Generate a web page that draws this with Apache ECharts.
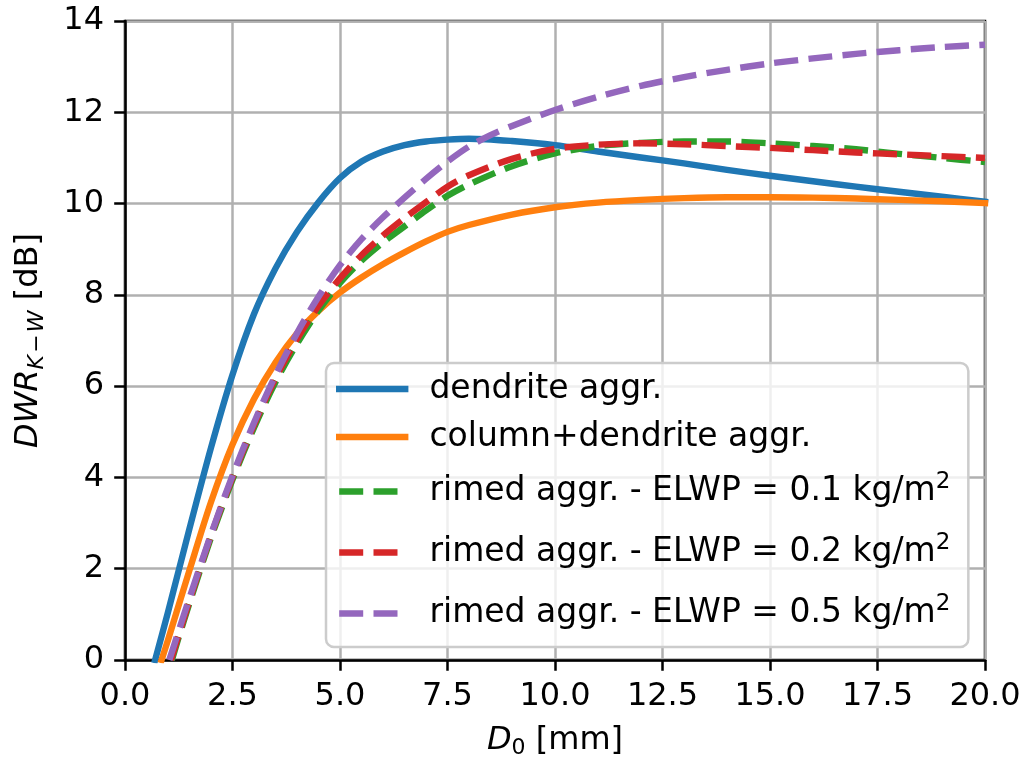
<!DOCTYPE html>
<html>
<head>
<meta charset="utf-8">
<script src="https://cdn.jsdelivr.net/npm/echarts@6/dist/echarts.min.js"></script>
<style>
  html, body { margin: 0; padding: 0; background: #ffffff; }
  #chart { width: 1023px; height: 758px; }
</style>
</head>
<body>
<div id="chart"></div>
<script>
// Dual-wavelength ratio (Ka vs W band) against median volume diameter D0 for several aggregate types.

const xTicks = [0, 2.5, 5, 7.5, 10, 12.5, 15, 17.5, 20];
const yTicks = [0, 2, 4, 6, 8, 10, 12, 14];

const seriesNames = [
  'dendrite aggr.',
  'column+dendrite aggr.',
  'rimed aggr. - ELWP = 0.1 kg/m²',
  'rimed aggr. - ELWP = 0.2 kg/m²',
  'rimed aggr. - ELWP = 0.5 kg/m²'
];

// dendrite aggregates
const dendriteD   = [0.70, 1.0, 1.5, 2.0, 2.5, 3.0, 3.5, 4.0, 4.5, 5.0, 5.5, 6.0, 6.5, 7.0, 7.5, 8.0, 9, 10, 11, 12, 13, 14, 15, 16, 17, 18, 19, 20];
const dendriteDWR = [0, 1.05, 2.88, 4.65, 6.25, 7.58, 8.58, 9.38, 10.03, 10.56, 10.92, 11.14, 11.28, 11.36, 11.4, 11.42, 11.37, 11.28, 11.14, 11.01, 10.88, 10.74, 10.61, 10.49, 10.37, 10.26, 10.15, 10.04];

// column + dendrite aggregates
const columnD   = [0.85, 1.0, 1.5, 2.0, 2.5, 3.0, 3.5, 4.0, 4.5, 5.0, 5.5, 6.0, 6.5, 7.0, 7.5, 8.0, 9, 10, 11, 12, 13, 14, 15, 16, 17, 18, 19, 20];
const columnDWR = [0, 0.44, 1.97, 3.46, 4.72, 5.72, 6.52, 7.16, 7.65, 8.05, 8.38, 8.67, 8.93, 9.17, 9.38, 9.53, 9.76, 9.92, 10.02, 10.08, 10.12, 10.14, 10.14, 10.13, 10.11, 10.08, 10.05, 10.01];

// rimed aggregates, ELWP = 0.1 kg/m2
const rimed01D   = [1.09, 1.25, 1.5, 2.0, 2.5, 3.0, 3.5, 4.0, 4.5, 5.0, 5.5, 6.0, 6.5, 7.0, 7.5, 8.0, 9, 10, 11, 12, 13, 14, 15, 16, 17, 18, 19, 20];
const rimed01DWR = [0, 0.5, 1.25, 2.68, 3.95, 5.09, 6.09, 6.93, 7.66, 8.26, 8.75, 9.15, 9.5, 9.85, 10.17, 10.42, 10.82, 11.1, 11.26, 11.33, 11.36, 11.36, 11.32, 11.26, 11.19, 11.09, 11.0, 10.91];

// rimed aggregates, ELWP = 0.2 kg/m2
const rimed02D   = [1.07, 1.25, 1.5, 2.0, 2.5, 3.0, 3.5, 4.0, 4.5, 5.0, 5.5, 6.0, 6.5, 7.0, 7.5, 8.0, 9, 10, 11, 12, 13, 14, 15, 16, 17, 18, 19, 20];
const rimed02DWR = [0, 0.55, 1.3, 2.73, 4.0, 5.15, 6.17, 7.03, 7.76, 8.36, 8.87, 9.3, 9.68, 10.03, 10.37, 10.62, 10.98, 11.2, 11.29, 11.32, 11.3, 11.26, 11.22, 11.17, 11.12, 11.08, 11.04, 11.0];

// rimed aggregates, ELWP = 0.5 kg/m2
const rimed05D   = [1.03, 1.25, 1.5, 2.0, 2.5, 3.0, 3.5, 4.0, 4.5, 5.0, 5.5, 6.0, 6.5, 7.0, 7.5, 8.0, 8.5, 9, 10, 11, 12, 13, 14, 15, 16, 17, 18, 19, 20];
const rimed05DWR = [0, 0.64, 1.36, 2.75, 4.04, 5.2, 6.24, 7.16, 7.96, 8.65, 9.22, 9.7, 10.13, 10.54, 10.92, 11.25, 11.5, 11.7, 12.05, 12.34, 12.58, 12.77, 12.93, 13.07, 13.18, 13.28, 13.36, 13.43, 13.48];

const colors = ['#1f77b4', '#ff7f0e', '#2ca02c', '#d62728', '#9467bd'];

const FONT = 'DejaVu Sans';
const LW = 6.4;
const DASH = [24, 10.3];

// legend handles: a solid bar or two dashes, both in the same 72.4 x 6.4 frame
const HANDLE_SOLID = 'path://M-3.2,0H69.2V6.4H-3.2Z';
const HANDLE_DASHED = 'path://M0,0H24V6.4H0Z M34.3,0H58.3V6.4H34.3Z M-3.2,0L-3.2,6.4 M69.2,0L69.2,6.4';

function pairs(xs, ys) {
  return xs.map((x, i) => [x, ys[i]]);
}

const curves = [
  { x: dendriteD, y: dendriteDWR, dashed: false },
  { x: columnD,   y: columnDWR,   dashed: false },
  { x: rimed01D,  y: rimed01DWR,  dashed: true },
  { x: rimed02D,  y: rimed02DWR,  dashed: true },
  { x: rimed05D,  y: rimed05DWR,  dashed: true }
];

const series = curves.map((c, i) => ({
  name: seriesNames[i],
  type: 'line',
  data: pairs(c.x, c.y),
  smooth: 0.3,
  symbol: 'none',
  showSymbol: false,
  clip: true,
  z: 2 + i * 0.1,
  itemStyle: { color: colors[i] },
  lineStyle: {
    color: colors[i],
    width: LW,
    type: c.dashed ? DASH : 'solid',
    cap: c.dashed ? 'butt' : 'square',
    join: 'round'
  }
}));

const legendData = curves.map((c, i) => ({
  name: seriesNames[i],
  icon: c.dashed ? HANDLE_DASHED : HANDLE_SOLID,
  itemStyle: { color: colors[i], borderWidth: 0 }
}));

const axisLine = { show: true, lineStyle: { color: '#000', width: 2.5 } };
const axisTick = { show: true, inside: false, length: 10.8, lineStyle: { color: '#000', width: 2.5 } };
const splitLine = { show: true, lineStyle: { color: '#b0b0b0', width: 2.5 } };

const chart = echarts.init(document.getElementById('chart'), null, { renderer: 'canvas' });

chart.setOption({
  animation: false,
  backgroundColor: '#ffffff',
  grid: {
    left: 125, right: 38, top: 21, bottom: 98,
    show: true,
    borderColor: '#000',
    borderWidth: 2.5,
    backgroundColor: 'transparent',
    containLabel: false,
    outerBoundsMode: 'none'
  },
  xAxis: {
    type: 'value',
    min: xTicks[0],
    max: xTicks[xTicks.length - 1],
    interval: xTicks[1] - xTicks[0],
    axisLine, axisTick, splitLine,
    axisLabel: {
      margin: 21,
      fontSize: 32,
      fontFamily: FONT,
      color: '#000',
      showMinLabel: true,
      showMaxLabel: true,
      hideOverlap: false,
      formatter: v => v.toFixed(1)
    },
    name: '{it|D}{sub|0} [mm]',
    nameLocation: 'middle',
    nameGap: 63,
    nameTextStyle: {
      fontSize: 32,
      fontFamily: FONT,
      color: '#000',
      lineHeight: 36,
      rich: {
        it: { fontSize: 32, fontFamily: FONT, fontStyle: 'italic', color: '#000', lineHeight: 36 },
        sub: { fontSize: 22, fontFamily: FONT, color: '#000', lineHeight: 22, padding: [14, 0, 0, 0] }
      }
    }
  },
  yAxis: {
    type: 'value',
    min: yTicks[0],
    max: yTicks[yTicks.length - 1],
    interval: yTicks[1] - yTicks[0],
    axisLine, axisTick, splitLine,
    axisLabel: {
      margin: 21,
      fontSize: 32,
      fontFamily: FONT,
      color: '#000',
      showMinLabel: true,
      showMaxLabel: true,
      hideOverlap: false
    },
    name: '{it|DWR}{sub|K\u200A\u2212\u200AW} [dB]',
    nameLocation: 'middle',
    nameRotate: 90,
    nameGap: 78,
    nameTextStyle: {
      fontSize: 32,
      fontFamily: FONT,
      color: '#000',
      lineHeight: 36,
      rich: {
        it: { fontSize: 32, fontFamily: FONT, fontStyle: 'italic', color: '#000', lineHeight: 36 },
        sub: { fontSize: 22, fontFamily: FONT, fontStyle: 'italic', color: '#000', lineHeight: 20, padding: [17, 0, 0, 0] }
      }
    }
  },
  legend: {
    orient: 'vertical',
    left: 326,
    top: 363,
    padding: [8, 18, 9, 10],
    itemWidth: 72.4,
    itemHeight: 6.4,
    itemGap: 12,
    symbolKeepAspect: true,
    selectedMode: false,
    backgroundColor: 'rgba(255,255,255,0.8)',
    borderColor: '#cccccc',
    borderWidth: 2.5,
    borderRadius: 8,
    textStyle: {
      fontSize: 33,
      fontFamily: FONT,
      color: '#000',
      lineHeight: 36,
      padding: [0, 0, 0, 16],
      rich: {
        sup: { fontSize: 23, fontFamily: FONT, color: '#000', lineHeight: 22, padding: [4, 0, 22, 0] }
      }
    },
    formatter: name => name.replace('²', '{sup|2}'),
    data: legendData
  },
  series
});
</script>
</body>
</html>
